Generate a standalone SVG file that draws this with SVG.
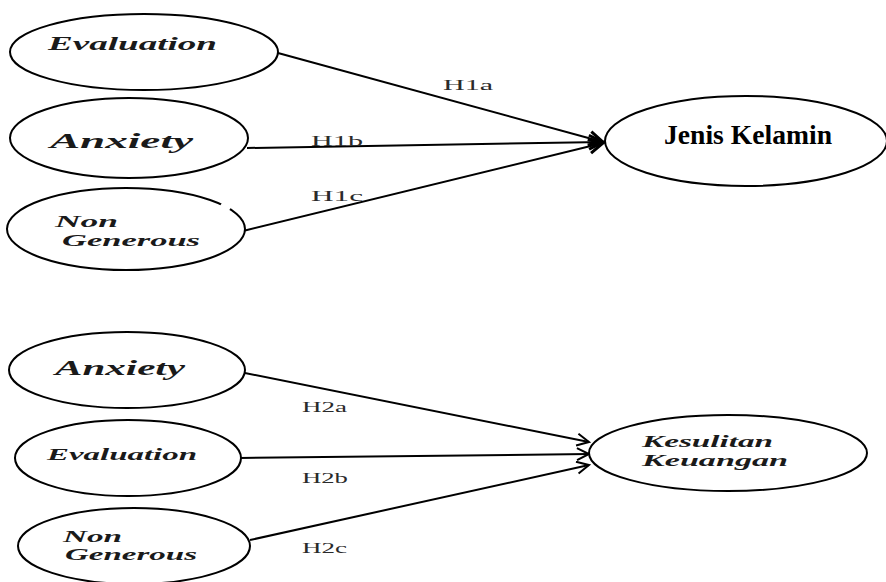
<svg xmlns="http://www.w3.org/2000/svg" width="886" height="582" viewBox="0 0 886 582">
<style>
.node ellipse{fill:#fff;stroke:#000;stroke-width:2}
.lbl{font-family:"Liberation Serif",serif;font-style:italic;font-weight:bold;fill:#1a1a1a}
.jk{font-family:"Liberation Serif",serif;font-weight:bold;fill:#000}
.hl{font-family:"Liberation Serif",serif;font-size:14px;fill:#2a2a2a}
.conn line{stroke:#000;stroke-width:2}
</style>
<defs>
<marker id="ah" markerUnits="userSpaceOnUse" markerWidth="16" markerHeight="16" refX="13" refY="7" orient="auto">
<path d="M1,1 L13,7 L1,13" fill="none" stroke="#000" stroke-width="2"/>
</marker>
<marker id="ahb" markerUnits="userSpaceOnUse" markerWidth="20" markerHeight="20" refX="15" refY="9" orient="auto">
<path d="M1,2 L15,9 L1,16" fill="none" stroke="#000" stroke-width="3"/>
</marker>
</defs>
<rect width="886" height="582" fill="#fff"/>
<g id="connectors" class="conn">
<line x1="278" y1="53" x2="603" y2="142" marker-end="url(#ahb)"/>
<line x1="247" y1="148" x2="603" y2="142" marker-end="url(#ahb)"/>
<line x1="243" y1="231" x2="603" y2="143" marker-end="url(#ahb)"/>
<line x1="235" y1="371" x2="589" y2="442" marker-end="url(#ah)"/>
<line x1="240" y1="458" x2="589" y2="454" marker-end="url(#ah)"/>
<line x1="250" y1="540" x2="589" y2="465" marker-end="url(#ah)"/>
</g>
<g id="n-evaluation1" class="node">
<ellipse cx="144" cy="52" rx="134" ry="38"/>
<text class="lbl" x="48" y="50" font-size="19" textLength="169" lengthAdjust="spacingAndGlyphs">Evaluation</text>
</g>
<g id="n-anxiety1" class="node">
<ellipse cx="129" cy="138" rx="119" ry="40"/>
<text class="lbl" x="50" y="148" font-size="22" textLength="143" lengthAdjust="spacingAndGlyphs">Anxiety</text>
</g>
<g id="n-nongenerous1" class="node">
<ellipse cx="126" cy="229" rx="119" ry="41"/>
<rect x="221" y="202" width="10" height="9" fill="#fff" transform="rotate(35 226 206)"/>
<text class="lbl" x="55" y="227" font-size="17" textLength="63" lengthAdjust="spacingAndGlyphs">Non</text>
<text class="lbl" x="62" y="246" font-size="17" textLength="138" lengthAdjust="spacingAndGlyphs">Generous</text>
</g>
<g id="n-jeniskelamin" class="node">
<ellipse cx="746" cy="141" rx="141" ry="45"/>
<text class="jk" x="664" y="144" font-size="27" textLength="168" lengthAdjust="spacingAndGlyphs">Jenis Kelamin</text>
</g>
<g id="n-anxiety2" class="node">
<ellipse cx="127" cy="370" rx="118" ry="38"/>
<text class="lbl" x="55" y="375" font-size="20" textLength="130" lengthAdjust="spacingAndGlyphs">Anxiety</text>
</g>
<g id="n-evaluation2" class="node">
<ellipse cx="128" cy="458" rx="113" ry="38"/>
<text class="lbl" x="47" y="460" font-size="17" textLength="150" lengthAdjust="spacingAndGlyphs">Evaluation</text>
</g>
<g id="n-nongenerous2" class="node">
<ellipse cx="134" cy="546" rx="116" ry="38"/>
<text class="lbl" x="63" y="542" font-size="16" textLength="59" lengthAdjust="spacingAndGlyphs">Non</text>
<text class="lbl" x="65" y="560" font-size="16" textLength="132" lengthAdjust="spacingAndGlyphs">Generous</text>
</g>
<g id="n-kesulitan" class="node">
<ellipse cx="728" cy="453" rx="139" ry="38"/>
<text class="lbl" x="642" y="447" font-size="16" textLength="131" lengthAdjust="spacingAndGlyphs">Kesulitan</text>
<text class="lbl" x="642" y="466" font-size="16" textLength="146" lengthAdjust="spacingAndGlyphs">Keuangan</text>
</g>
<g id="labels">
<text class="hl" x="443" y="90" textLength="50" lengthAdjust="spacingAndGlyphs">H1a</text>
<text class="hl" x="311" y="146" textLength="52" lengthAdjust="spacingAndGlyphs">H1b</text>
<text class="hl" x="311" y="201" textLength="52" lengthAdjust="spacingAndGlyphs">H1c</text>
<text class="hl" x="302" y="412" textLength="45" lengthAdjust="spacingAndGlyphs">H2a</text>
<text class="hl" x="302" y="483" textLength="46" lengthAdjust="spacingAndGlyphs">H2b</text>
<text class="hl" x="302" y="553" textLength="45" lengthAdjust="spacingAndGlyphs">H2c</text>
</g>
</svg>
